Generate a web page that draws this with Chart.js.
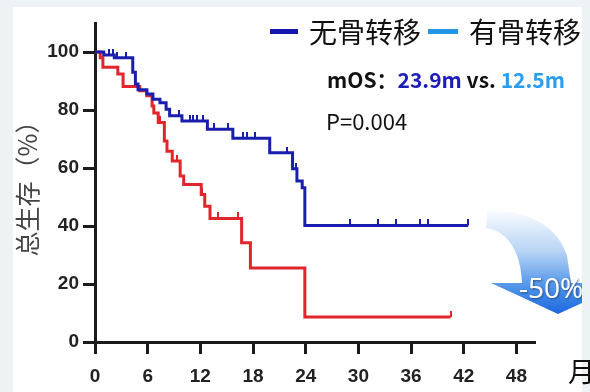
<!DOCTYPE html>
<html>
<head>
<meta charset="utf-8">
<script src="https://cdn.jsdelivr.net/npm/chart.js@4.4.0/dist/chart.umd.min.js"></script>
<style>
  body { margin: 0; width: 590px; height: 392px; background: #edf3f5; position: relative; overflow: hidden; }
  #panel { position: absolute; left: 13px; top: 7px; width: 569px; height: 385px; background: #fff; }
  #grafico { position: absolute; left: 0; top: 0; }
  .txt { position: absolute; white-space: nowrap; font-family: "Noto Sans CJK SC", sans-serif; color: #111; }
  .marca { position: absolute; height: 5px; }
  #flecha { position: absolute; left: 0; top: 0; }
</style>
</head>
<body>
<div id="panel"></div>
<canvas id="grafico" width="590" height="392"></canvas>

<!-- flecha -50% -->
<svg id="flecha" width="582" height="392">
  <defs>
    <linearGradient id="grad" x1="0" y1="210" x2="0" y2="314" gradientUnits="userSpaceOnUse">
      <stop offset="0" stop-color="#fbfdff"/>
      <stop offset="0.4" stop-color="#b7d3f5"/>
      <stop offset="0.72" stop-color="#5597ea"/>
      <stop offset="1" stop-color="#1a68e0"/>
    </linearGradient>
    <filter id="sombra" x="-20%" y="-30%" width="140%" height="160%">
      <feDropShadow dx="1" dy="1" stdDeviation="1" flood-color="#1a3a6a" flood-opacity="0.8"/>
    </filter>
  </defs>
  <path d="M487,211 C525,209 558,225 567,256 L571,283 L626,283 L558,314 L491,283 L522,283 C521,258 512,232 486,228 Z" fill="url(#grad)"/>
  <text x="519" y="298" fill="#fff" font-family="Open Sans" font-size="28" filter="url(#sombra)">-50%</text>
</svg>

<!-- leyenda -->
<div class="marca" style="left:270px; top:29px; width:28px; background:#1515b0;"></div>
<div class="txt" style="left:309px; top:17px; font-size:28px; line-height:28px;">无骨转移</div>
<div class="marca" style="left:428px; top:29px; width:30px; background:#2196e8;"></div>
<div class="txt" style="left:469px; top:17px; font-size:28px; line-height:28px;">有骨转移</div>

<div class="txt" style="left:327px; top:67px; font-size:21px; line-height:24px; font-weight:bold;">mOS：<span style="color:#1c1cb8">23.9m</span> vs. <span style="color:#2a9df0">12.5m</span></div>
<div class="txt" style="left:326px; top:107px; font-size:22px; line-height:26px;">P=0.004</div>
<div class="txt" style="left:568px; top:356px; font-size:27px; line-height:30px;">月</div>

<script>
/* datos: tiempo en meses y supervivencia en % */
const tiemposSinMeta = [0, 1.0, 2.2, 4.3, 4.6, 4.9, 5.9, 6.6, 7.4, 8.1, 8.5, 9.9, 12.8, 15.7, 19.9, 22.5, 23.0, 23.6, 23.9, 42.5];
const supervSinMeta = [100, 99, 98, 93, 89, 87, 85.5, 83.7, 82.5, 80.3, 78, 76.2, 73.4, 70.3, 65.3, 59.7, 55.5, 53.2, 40.2, 40.2];
const censuraSinMeta = [1.6, 2.0, 2.5, 3.5, 9.6, 10.8, 11.2, 11.6, 12.3, 13.5, 15.2, 16.9, 17.3, 18.2, 21.9, 22.9, 29.0, 32.2, 34.3, 37.0, 37.9, 42.5];

const tiemposConMeta = [0, 0.6, 0.9, 2.6, 3.2, 5.1, 5.9, 6.5, 6.7, 7.2, 7.9, 8.2, 8.8, 9.7, 10.1, 12.1, 12.5, 13.1, 16.7, 17.7, 23.9, 40.5];
const supervConMeta = [100, 98, 94.7, 92.4, 88.1, 86.6, 84.9, 81.4, 79, 75.7, 69.3, 65.8, 62.4, 57.2, 54.3, 50.9, 46.8, 42.6, 34.2, 25.5, 8.6, 8.6];
const censuraConMeta = [7.4, 9.3, 12.2, 14.0, 16.3, 40.5];

const ticksX = [0, 6, 12, 18, 24, 30, 36, 42, 48];
const ticksY = [0, 20, 40, 60, 80, 100];

const azul = '#1a1eae';
const rojo = '#e0262a';

function puntos(tiempos, superv) {
  return tiempos.map((t, i) => ({ x: t, y: superv[i] }));
}

/* busca el valor de la curva en el tiempo de censura */
function supervEn(tiempos, superv, t) {
  let s = superv[0];
  for (let i = 0; i < tiempos.length; i++) {
    if (tiempos[i] <= t) s = superv[i];
  }
  return s;
}

function puntosCensura(censura, tiempos, superv) {
  return censura.map(t => ({ x: t, y: supervEn(tiempos, superv, t) }));
}

/* marca vertical pequeña hacia arriba */
function marcaCensura(color) {
  const c = document.createElement('canvas');
  c.width = 2;
  c.height = 12;
  const ctx = c.getContext('2d');
  ctx.fillStyle = color;
  ctx.fillRect(0, 0, 2, 6);
  return c;
}

const fuenteTicks = { family: 'Liberation Sans', size: 19, weight: 'bold' };

new Chart(document.getElementById('grafico'), {
  type: 'line',
  data: {
    datasets: [
      {
        label: '无骨转移',
        data: puntos(tiemposSinMeta, supervSinMeta),
        borderColor: azul,
        borderWidth: 3,
        stepped: true,
        pointRadius: 0,
        fill: false
      },
      {
        type: 'scatter',
        data: puntosCensura(censuraSinMeta, tiemposSinMeta, supervSinMeta),
        pointStyle: marcaCensura(azul),
        pointRadius: 3
      },
      {
        label: '有骨转移',
        data: puntos(tiemposConMeta, supervConMeta),
        borderColor: rojo,
        borderWidth: 3,
        stepped: true,
        pointRadius: 0,
        fill: false
      },
      {
        type: 'scatter',
        data: puntosCensura(censuraConMeta, tiemposConMeta, supervConMeta),
        pointStyle: marcaCensura(rojo),
        pointRadius: 3
      }
    ]
  },
  options: {
    responsive: false,
    animation: false,
    layout: { padding: { top: 23, right: 56, left: 0, bottom: 0 } },
    plugins: { legend: { display: false }, tooltip: { enabled: false } },
    scales: {
      x: {
        type: 'linear',
        min: 0,
        max: 50,
        afterBuildTicks: s => { s.ticks = ticksX.map(v => ({ value: v })); },
        afterFit: s => { s.height = 50; },
        border: { color: '#1b1b1b', width: 3 },
        grid: { drawOnChartArea: false, tickLength: 12, color: '#1b1b1b', lineWidth: 3 },
        ticks: { padding: 11, color: '#222', font: fuenteTicks, maxRotation: 0 }
      },
      y: {
        min: 0,
        max: 110,
        afterBuildTicks: s => { s.ticks = ticksY.map(v => ({ value: v })); },
        afterFit: s => { s.width = 95; },
        border: { color: '#1b1b1b', width: 3 },
        grid: { drawOnChartArea: false, tickLength: 12, color: '#1b1b1b', lineWidth: 3 },
        ticks: { padding: 4, color: '#222', font: fuenteTicks },
        title: {
          display: true,
          text: '总生存（%）',
          color: '#444',
          font: { family: 'Noto Sans CJK SC', size: 25 },
          padding: { top: 12, bottom: 0 }
        }
      }
    }
  }
});
</script>
</body>
</html>
